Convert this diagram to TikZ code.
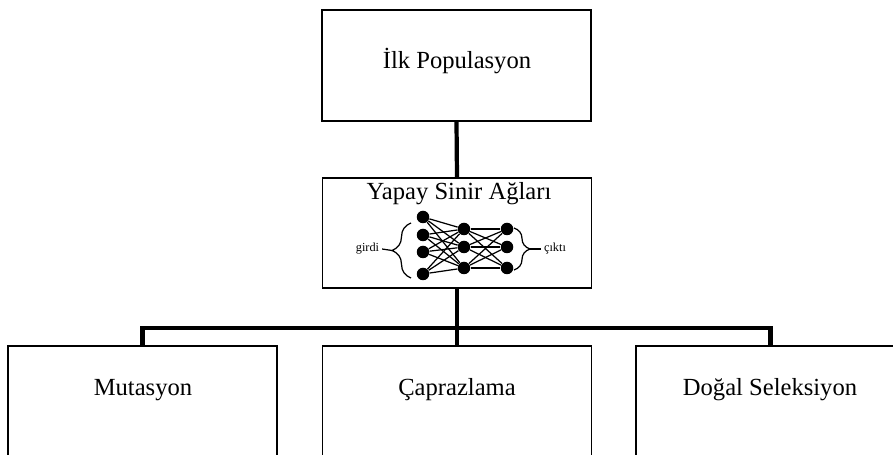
\documentclass[tikz,border=0pt]{standalone}
\usepackage{fontspec}
\setmainfont{Liberation Serif}
\usetikzlibrary{calc,positioning,decorations.pathreplacing}

\tikzset{
  kutu/.style={draw,line width=0.8pt,minimum width=5.38cm,inner sep=0pt},
  baslik/.style={font=\fontsize{14}{16}\selectfont,inner sep=0pt},
  etiket/.style={font=\fontsize{7}{9}\selectfont,inner sep=1.5pt},
  noron/.style={circle,fill=black,minimum size=0.25cm,inner sep=0pt},
  hat/.style={line width=2.4pt},
  bag/.style={line width=0.7pt},
}

\begin{document}
\begin{tikzpicture}[x=0.02cm,y=-0.02cm]
\useasboundingbox (0,0) rectangle (893,455);
\clip (0,0) rectangle (893,455);

% kutular
\node[kutu,minimum height=2.22cm] (pop) at (456.5,65.5) {};
\node[kutu,minimum height=2.2cm] (ysa) at (457,233) {};
\node[kutu,minimum height=2.6cm] (mut) at (142.5,411) {};
\node[kutu,minimum height=2.6cm] (cap) at (457,411) {};
\node[kutu,minimum height=2.6cm] (dog) at (770.5,411) {};

\node[baslik] (popyazi) at (457,61) {İlk Populasyon};
\node[baslik] (ysayazi) at (459,194) {Yapay Sinir Ağları};
\node[baslik] (mutyazi) at (143,390) {Mutasyon};
\node[baslik] (capyazi) at (457,390) {Çaprazlama};
\node[baslik] (dogyazi) at (770,390) {Doğal Seleksiyon};

% baglanti hatlari
\draw[hat] (pop.south) -- (ysa.north);
\draw[hat] (ysa.south) -- ++(0,39) coordinate (dal);
\draw[hat] (mut.north) |- (dal) -| (dog.north);
\draw[hat] (dal) -- (cap.north);

% ag: girdi, gizli ve cikti katmanlari
\foreach \y [count=\i] in {217,235,252,274}
  \node[noron] (g\i) at (423,\y) {};
\foreach \y [count=\i] in {229,247,268}{
  \node[noron] (h\i) at (464,\y) {};
  \node[noron] (c\i) at (507,\y) {};
}
\foreach \i in {1,...,4}
  \foreach \j in {1,...,3}
    \draw[bag] (g\i) -- (h\j);
\foreach \i in {1,...,3}
  \foreach \j in {1,...,3}
    \draw[bag] (h\i) -- (c\j);

% parantezler
\draw[bag,decorate,decoration={brace,amplitude=0.38cm}] (411,278) -- (411,223);
\coordinate (gucu) at (392,250.5);
\node[etiket] (girdi) at (367.5,249) {girdi};
\draw[bag] (girdi.east) -- (gucu);

\draw[bag,decorate,decoration={brace,amplitude=0.32cm}] (514,228) -- (514,270);
\coordinate (cucu) at (530,249);
\node[etiket] (cikti) at (555,249) {çıktı};
\draw[bag] (cucu) -- (cikti.west);
\end{tikzpicture}
\end{document}
